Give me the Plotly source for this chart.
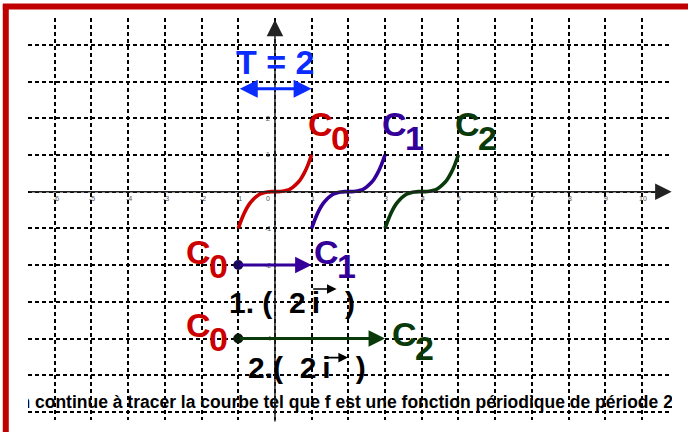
import plotly.graph_objects as go

# ---------------- data ----------------
# curve C0 on [-1, 1]
x_c0 = [-1.0, -0.9, -0.8, -0.7, -0.6, -0.5, -0.4, -0.3, -0.2, -0.1, 0.0,
        0.1, 0.2, 0.3, 0.4, 0.5, 0.6, 0.7, 0.8, 0.9, 1.0]
# C1 on [1, 3]
x_c1 = [1.0, 1.1, 1.2, 1.3, 1.4, 1.5, 1.6, 1.7, 1.8, 1.9, 2.0,
        2.1, 2.2, 2.3, 2.4, 2.5, 2.6, 2.7, 2.8, 2.9, 3.0]
# C2 on [3, 5]
x_c2 = [3.0, 3.1, 3.2, 3.3, 3.4, 3.5, 3.6, 3.7, 3.8, 3.9, 4.0,
        4.1, 4.2, 4.3, 4.4, 4.5, 4.6, 4.7, 4.8, 4.9, 5.0]
y_curve = [-1.0, -0.73, -0.51, -0.34, -0.22, -0.13, -0.06, -0.03, -0.01, 0.0, 0.0,
           0.0, 0.01, 0.03, 0.06, 0.13, 0.22, 0.34, 0.51, 0.73, 1.0]

curve_names = ["0", "1", "2"]
curve_colors = ["#cc0000", "#330099", "#0a3a0a"]

# translation vectors C0 -> C1 and C0 -> C2
vec_start_x = [-1, -1]
vec_end_x = [1, 3]
vec_y = [-2, -4]
vec_colors = ["#330099", "#0a3a0a"]
vec_dot_colors = ["#1a0a5e", "#0a1a0a"]
NB = "\u00a0"
vec_texts = ["1." + NB + "(" + NB * 2 + "2\u2009i" + NB * 3 + ")",
             "2.(" + NB * 2 + "2\u2009i" + NB * 3 + ")"]

period = 2
x_ticks = [-6, -5, -4, -3, -2, -1, 1, 2, 3, 4, 5, 6, 7, 8, 9, 10]
y_ticks = [2, 1, -1, -2, -4]
caption = "On continue à tracer la courbe tel que f est une fonction périodique de période 2"

# ---------------- figure ----------------
XR = [-6.73, 10.82]
YR = [-6.22, 4.73]
FONT = "Liberation Sans, Arial, sans-serif"

fig = go.Figure()

for xs, nm, col in zip([x_c0, x_c1, x_c2], curve_names, curve_colors):
    fig.add_trace(go.Scatter(x=xs, y=y_curve, mode="lines", line=dict(color=col, width=3.6, shape="spline"),
                             hoverinfo="skip", showlegend=False))

# caption (clipped at the left by the plot area)
fig.add_trace(go.Scatter(x=[-7.335], y=[-5.78], mode="text", text=[caption], textposition="middle right",
                         textfont=dict(family=FONT, size=17.5, color="black", weight="bold"),
                         cliponaxis=True, hoverinfo="skip", showlegend=False))

ann = []
# axes with arrows
ann.append(dict(x=XR[1] - 0.01, y=0, ax=XR[0], ay=0, xref="x", yref="y", axref="x", ayref="y",
                showarrow=True, arrowhead=2, arrowsize=2.2, arrowwidth=1.5, arrowcolor="#222", text=""))
ann.append(dict(x=0, y=4.68, ax=0, ay=-6.3, xref="x", yref="y", axref="x", ayref="y",
                showarrow=True, arrowhead=2, arrowsize=2.2, arrowwidth=1.5, arrowcolor="#222", text=""))

# tiny tick labels
for t in x_ticks:
    ann.append(dict(x=t, y=0, xref="x", yref="y", text=str(t), showarrow=False, yshift=-7, xshift=1,
                    font=dict(family=FONT, size=7, color="#555")))
ann.append(dict(x=0, y=0, xref="x", yref="y", text="0", showarrow=False, yshift=-7, xshift=-7,
                font=dict(family=FONT, size=7, color="#555")))
for t in y_ticks:
    ann.append(dict(x=0, y=t, xref="x", yref="y", text=str(t), showarrow=False, xshift=-7,
                    font=dict(family=FONT, size=7, color="#555")))

# period arrow
ann.append(dict(x=period / 2, y=2.8, ax=-period / 2, ay=2.8, xref="x", yref="y", axref="x", ayref="y",
                showarrow=True, arrowhead=2, startarrowhead=2, arrowside="end+start", arrowsize=1.2,
                startarrowsize=1.2, arrowwidth=3, arrowcolor="#0a2cff", text=""))
ann.append(dict(x=0, y=3.52, xref="x", yref="y", text="T = " + str(period), showarrow=False,
                font=dict(family=FONT, size=34, color="#0a2cff", weight="bold")))


def add_c(x, y, sub, col):
    ann.append(dict(x=x, y=y, xref="x", yref="y", text="C", showarrow=False,
                    font=dict(family=FONT, size=34, color=col, weight="bold")))
    ann.append(dict(x=x, y=y, xref="x", yref="y", text=sub, showarrow=False, xshift=20, yshift=-14,
                    font=dict(family=FONT, size=34, color=col, weight="bold")))


# labels at the end of each curve
for xs, nm, col in zip([x_c0, x_c1, x_c2], curve_names, curve_colors):
    add_c(xs[-1] + 0.25, 1.84, nm, col)

# vectors
for i in range(2):
    ann.append(dict(x=vec_end_x[i], y=vec_y[i], ax=vec_start_x[i], ay=vec_y[i], xref="x", yref="y",
                    axref="x", ayref="y", showarrow=True, arrowhead=2, arrowsize=1.1, arrowwidth=3,
                    arrowcolor=vec_colors[i], text=""))
    add_c(vec_start_x[i] - 1.09, vec_y[i] + 0.36, curve_names[0], curve_colors[0])
fig.add_trace(go.Scatter(x=vec_start_x, y=vec_y, mode="markers",
                         marker=dict(size=10, color=vec_dot_colors), hoverinfo="skip", showlegend=False))
add_c(1.4, -1.64, curve_names[1], curve_colors[1])
add_c(3.54, -3.88, curve_names[2], curve_colors[2])

# vector expressions
ann.append(dict(x=-1.3, y=-3.03, xref="x", yref="y", text=vec_texts[0], showarrow=False, xanchor="left",
                font=dict(family=FONT, size=30, color="black", weight="bold")))
ann.append(dict(x=-0.78, y=-4.79, xref="x", yref="y", text=vec_texts[1], showarrow=False, xanchor="left",
                font=dict(family=FONT, size=30, color="black", weight="bold")))
ann.append(dict(x=1.68, y=-2.65, ax=1.0, ay=-2.65, xref="x", yref="y", axref="x", ayref="y",
                showarrow=True, arrowhead=2, arrowsize=1.2, arrowwidth=1.6, arrowcolor="black", text=""))
ann.append(dict(x=1.99, y=-4.52, ax=1.31, ay=-4.52, xref="x", yref="y", axref="x", ayref="y",
                showarrow=True, arrowhead=2, arrowsize=1.2, arrowwidth=1.6, arrowcolor="black", text=""))

# red frame (top and left)
shapes = [
    dict(type="line", xref="paper", yref="paper", x0=-0.0391, x1=1.03, y0=1.0286, y1=1.0286,
         line=dict(color="#c00000", width=6)),
    dict(type="line", xref="paper", yref="paper", x0=-0.0345, x1=-0.0345, y0=1.0336, y1=-0.04,
         line=dict(color="#c00000", width=6)),
]

grid = dict(showgrid=True, gridcolor="black", gridwidth=1.5, griddash="4px,3px", dtick=1, tick0=0,
            showticklabels=False, zeroline=False, showline=False, ticks="")
fig.update_layout(
    width=688, height=432,
    margin=dict(l=28, r=16, t=18, b=12),
    paper_bgcolor="white", plot_bgcolor="white",
    xaxis=dict(range=XR, **grid),
    yaxis=dict(range=YR, **grid),
    annotations=ann, shapes=shapes, showlegend=False,
)
fig.write_html("out.html", config={"displayModeBar": False},
               post_script="document.body.style.margin='0px';document.body.style.overflow='hidden';")
